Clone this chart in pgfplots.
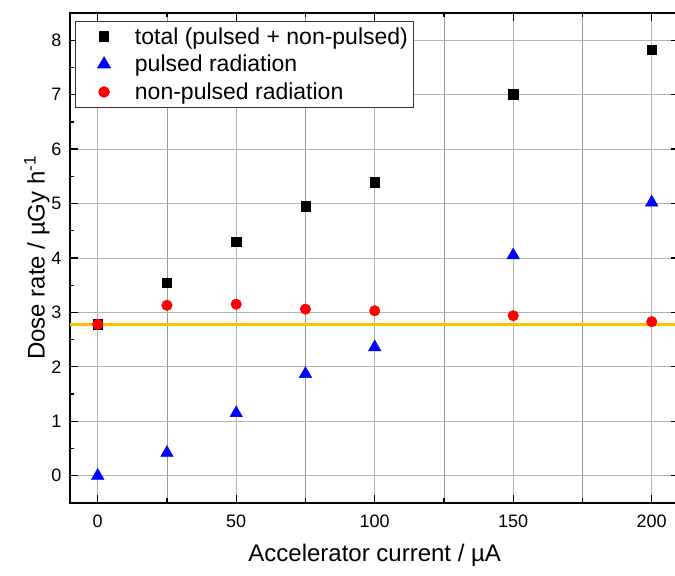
\documentclass[border=0pt]{standalone}
\usepackage{pgfplots}
\pgfplotsset{compat=1.18}
\usepackage{fontspec}
\setmainfont{Liberation Sans}
\definecolor{myorange}{HTML}{FFC000}
\definecolor{myblue}{HTML}{0000FF}
\definecolor{myred}{HTML}{FF0000}
\begin{document}
\begin{tikzpicture}
\begin{axis}[
  scale only axis,
  width=609.5pt, height=490pt,
  xmin=-10, xmax=210, ymin=-0.5, ymax=8.5,
  xtick={0,50,100,150,200},
  ytick={0,1,2,3,4,5,6,7,8},
  minor x tick num=1,
  minor y tick num=1,
  tick align=inside,
  major tick length=8pt, minor tick length=4.5pt,
  every tick/.style={black, line width=1.3pt},
  axis line style={line width=1.8pt},
  grid=none,
  xmajorgrids, xminorgrids, ymajorgrids,
  major grid style={line width=0.9pt, color=black!30},
  minor grid style={line width=0.7pt, color=black!40},
  /pgf/number format/assume math mode=true,
  ticklabel style={font=\fontsize{18}{21}\selectfont},
  xticklabel style={yshift=-8pt},
  yticklabel style={xshift=-5pt},
  xlabel={Accelerator current / µA},
  ylabel={Dose rate / µGy h\textsuperscript{-1}},
  label style={font=\fontsize{24}{28}\selectfont},
  xlabel style={yshift=-10pt},
  ylabel style={yshift=-5pt},
  legend style={at={(axis cs:-8.2,8.36)}, anchor=north west, draw=black!80, line width=0.9pt,
    font=\fontsize{23}{25}\selectfont, inner xsep=4pt, inner ysep=4.5pt,
    row sep=5.5pt,
    /tikz/every even column/.append style={column sep=0pt}},
  legend image code/.code={\path (0cm,0cm) (1.85cm,0cm); \draw[#1] plot coordinates {(0.85cm,0cm)};},
  legend cell align=left,
  clip=false,
]
\addplot[only marks, mark=square*, mark size=4.7pt, color=black] coordinates {
 (0,2.78) (25,3.55) (50,4.30) (75,4.95) (100,5.39) (150,7.01) (200,7.83)};
\addlegendentry{total (pulsed + non-pulsed)}
\addplot[only marks, mark=triangle*, mark size=7.3pt, color=myblue] coordinates {
 (0,0.0) (25,0.42) (50,1.15) (75,1.87) (100,2.36) (150,4.05) (200,5.02)};
\addlegendentry{pulsed radiation}
\addplot[only marks, mark=*, mark size=5.3pt, color=myred] coordinates {
 (0,2.78) (25,3.13) (50,3.15) (75,3.06) (100,3.03) (150,2.94) (200,2.83)};
\addlegendentry{non-pulsed radiation}
\addplot[forget plot, line width=3pt, color=myorange] coordinates {(-10,2.78) (210,2.78)};
\coordinate (BR) at (axis cs:208.4,-0.5);
\end{axis}
\pgfresetboundingbox
\useasboundingbox ([xshift=-70pt,yshift=-73pt]current axis.south west) rectangle ([yshift=13pt]BR |- current axis.north);
\end{tikzpicture}
\end{document}
